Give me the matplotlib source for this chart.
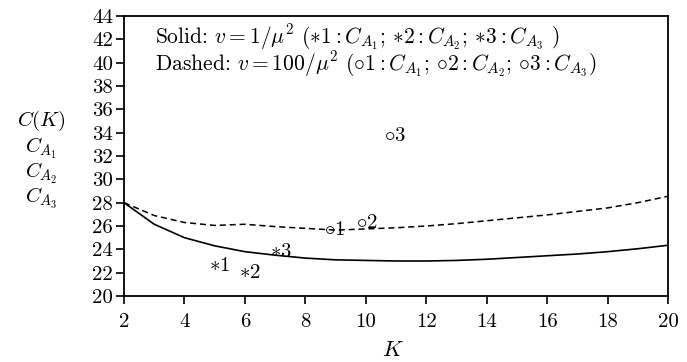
import matplotlib
matplotlib.use("Agg")
import matplotlib.pyplot as plt

plt.rcParams['mathtext.fontset'] = 'cm'
plt.rcParams['font.family'] = 'serif'
plt.rcParams['font.serif'] = ['cmr10', 'DejaVu Serif']
plt.rcParams['axes.formatter.use_mathtext'] = True

K = list(range(2, 21))
solid = [28.0, 26.15, 25.0, 24.3, 23.8, 23.5, 23.25, 23.1, 23.05, 23.0, 23.0,
         23.05, 23.15, 23.3, 23.45, 23.6, 23.8, 24.05, 24.35]
dashed = [28.0, 26.9, 26.3, 26.05, 26.15, 25.95, 25.8, 25.65, 25.75, 25.85, 26.0,
          26.2, 26.45, 26.7, 26.95, 27.25, 27.55, 28.0, 28.55]

star_x = [5.0, 6.0, 7.0]
star_y = [22.6, 22.0, 23.8]
circ_x = [8.8, 9.85, 10.8]
circ_y = [25.65, 26.25, 33.7]
point_labels = ['1', '2', '3']

xticks = list(range(2, 21, 2))
yticks = list(range(20, 45, 2))

fig = plt.figure(figsize=(6.87, 3.62), dpi=100)
ax = fig.add_axes([0.1805, 0.1823, 0.7919, 0.7735])

ax.plot(K, solid, color='black', lw=1.2, linestyle='-')
ax.plot(K, dashed, color='black', lw=1.1, linestyle=(0, (4, 2.5)))

for x, y, lab in zip(star_x, star_y, point_labels):
    ax.annotate(r'$\ast$' + lab, xy=(x, y), xytext=(-4, 0), textcoords='offset points',
                ha='left', va='center', fontsize=15)
for x, y, lab in zip(circ_x, circ_y, point_labels):
    ax.annotate(r'$\circ$' + lab, xy=(x, y), xytext=(-4, 0), textcoords='offset points',
                ha='left', va='center', fontsize=15)

legend_text = (r'Solid: $v = 1/\mu^2$ ($\ast1: C_{A_1}$; $\ast2: C_{A_2}$; $\ast3: C_{A_3}$ )'
               '\n'
               r'Dashed: $v = 100/\mu^2$ ($\circ1: C_{A_1}$; $\circ2: C_{A_2}$; $\circ3: C_{A_3}$)')
ax.text(0.057, 0.877, legend_text, transform=ax.transAxes, fontsize=15.5,
        ha='left', va='center', linespacing=0.85)

ax.set_xlim(2, 20)
ax.set_ylim(20, 44)
ax.set_xticks(xticks)
ax.set_yticks(yticks)
ax.set_xticklabels([str(t) for t in xticks])
ax.set_yticklabels([str(t) for t in yticks])
ax.tick_params(direction='out', length=6, width=1.2, labelsize=15, pad=2)
ax.tick_params(axis='x', pad=6)
for s in ax.spines.values():
    s.set_linewidth(1.3)

fig.text(393 / 687, 1 - 350 / 362, r'$K$', fontsize=16, ha='center', va='center')
left_labels = [r'$C(K)$', r'$C_{A_1}$', r'$C_{A_2}$', r'$C_{A_3}$']
left_y = [121, 148, 173, 198]
for lab, yp in zip(left_labels, left_y):
    fig.text(41 / 687, 1 - yp / 362, lab, fontsize=15, ha='center', va='center')

fig.savefig('out.png', dpi=100)
